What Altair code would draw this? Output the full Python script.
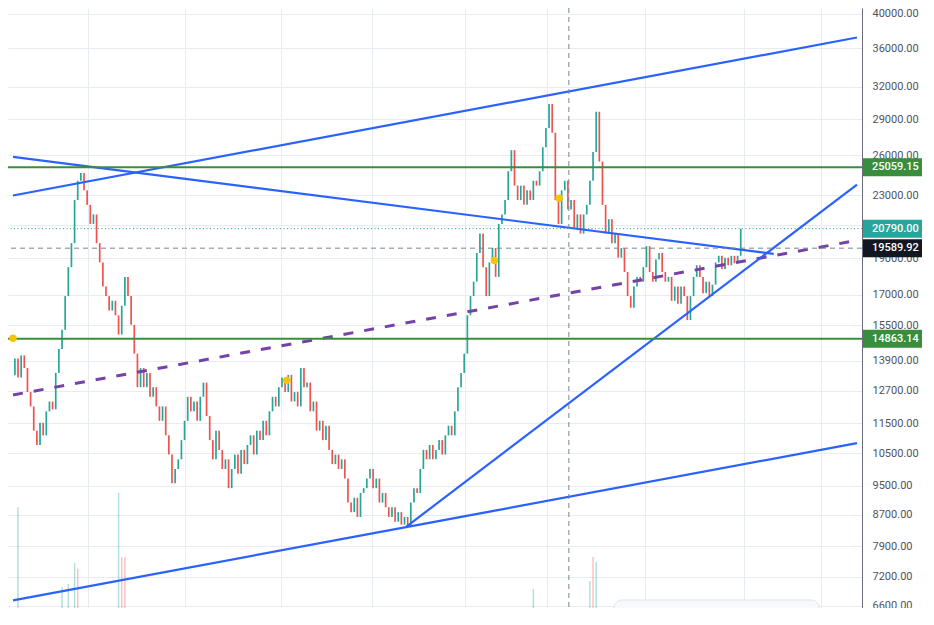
import altair as alt
import pandas as pd

# ---------------- data ----------------
first_open = 13300
closes = [
    14000, 13210, 14130, 13600, 12640, 12100, 11240, 10760, 11510, 11080,
    11920, 12280, 11990, 13400, 14410, 15280, 16930, 18490, 19890, 22680,
    24050, 24620, 23360, 22350, 21090, 21710, 19890, 18760, 17430, 16930,
    16200, 16690, 15970, 15060, 16440, 17950, 16930, 15510, 14210, 12830,
    13600, 12830, 13400, 12460, 12830, 12100, 11580, 12100, 11080, 10450,
    9573, 10000, 10300, 10920, 11580, 12460, 11920, 12280, 11580, 12460,
    13010, 11750, 10920, 10300, 11240, 10600, 10000, 10300, 9435, 10000,
    10450, 9855, 10600, 10150, 10760, 11080, 10450, 11240, 10920, 11580,
    11080, 11920, 12460, 12100, 12830, 13210, 12640, 13320, 12280, 12640,
    12100, 13600, 12830, 13010, 11920, 12280, 11240, 11580, 10920, 11410,
    10600, 10150, 10450, 10000, 10300, 9715, 9030, 8770, 9163, 8642,
    9298, 9435, 9715, 10000, 9435, 9715, 9030, 9298, 8900, 8642,
    8900, 8517, 8770, 8442, 8642, 8393, 9030, 9435, 9298, 10000,
    10600, 10300, 10760, 10300, 10600, 10920, 10450, 11080, 11410, 11080,
    11920, 12830, 13400, 14210, 15970, 16930, 17690, 19310, 20480, 18490,
    16930, 18760, 19600, 17950, 21090, 21710, 22680, 24760, 26400, 23700,
    22680, 23700, 22350, 23360, 22680, 24050, 23700, 24760, 26640, 28250,
    30390, 27840, 22680, 21090, 23360, 24050, 22030, 22680, 20780, 21710,
    20480, 21710, 22350, 24050, 26250, 29680, 25500, 22350, 20480, 21400,
    19890, 20480, 19030, 19600, 18220, 16930, 16340, 17430, 17950, 17690,
    18490, 19710, 18220, 17690, 18920, 19310, 18220, 17690, 17950, 16690,
    17430, 16540, 17430, 16930, 15740, 16930, 17950, 18600, 17950, 17080,
    17690, 16930, 17530, 18760, 19140, 18380, 19030, 18600, 19140, 18710,
    19140, 20790,
]

price_ticks = [6600, 7200, 7900, 8700, 9500, 10500, 11500, 12700, 13900, 15500,
               17000, 19000, 21000, 23000, 26000, 29000, 32000, 36000, 40000]
month_grid = [23.4, 54.2, 84.6, 113.5, 143.4, 169.2, 200.6, 232.0, 256.6]

vol_index = [1, 15, 17, 19, 20, 33, 34, 35, 165, 183, 184, 185]
vol_value = [105, 22, 25, 47, 41, 120, 53, 53, 20, 28, 53, 48]
vol_dir = ["up", "up", "up", "up", "down", "up", "down", "down", "up", "up", "down", "up"]

trend_x1 = [-0.6, -0.6, 124.6, -0.6]
trend_y1 = [23000, 25870, 8393, 6705]
trend_x2 = [268, 241.5, 268, 268]
trend_y2 = [37200, 19250, 23770, 10820]

median_x1 = [-0.6]
median_y1 = [12530]
median_x2 = [268]
median_y2 = [20060]

level_prices = [25059.15, 14863.14]
last_price = [20790.00]
cross_price = [19589.92]
cross_index = [176.3]

dot_index = [-0.6, 86.5, 152.6, 173.2]
dot_price = [14890, 13100, 18870, 22800]

tag_values = [25059.15, 20790.00, 19589.92, 14863.14]
tag_text = ["25059.15", "20790.00", "19589.92", "14863.14"]
tag_colors = ["#388e3c", "#26a69a", "#131722", "#388e3c"]

# ---------------- tables ----------------
opens = [first_open] + closes[:-1]
candles = pd.DataFrame({
    "i": list(range(len(closes))),
    "open": opens,
    "close": closes,
})
candles["dir"] = ["up" if c >= o else "down" for o, c in zip(opens, closes)]

vol = pd.DataFrame({"vi": vol_index, "vol": vol_value, "dir": vol_dir})
trends = pd.DataFrame({"x1": trend_x1, "y1": trend_y1, "x2": trend_x2, "y2": trend_y2})
median = pd.DataFrame({"x1": median_x1, "y1": median_y1, "x2": median_x2, "y2": median_y2})
levels = pd.DataFrame({"v": level_prices})
lastp = pd.DataFrame({"v": last_price})
crossp = pd.DataFrame({"v": cross_price})
crossi = pd.DataFrame({"i": cross_index})
dots = pd.DataFrame({"i": dot_index, "v": dot_price})
tags = pd.DataFrame({"v": tag_values, "t": tag_text, "c": tag_colors})

W, H = 854, 600
GRID = "#e7ecf2"
FONT = "Roboto"

X_SCALE = alt.Scale(domain=[-0.6, 268], nice=False, zero=False)
X_AXIS = alt.Axis(values=month_grid, labels=False, ticks=False, domain=False,
                  grid=True, gridColor=GRID, title=None)
Y_SCALE = alt.Scale(type="log", domain=[6550, 40700], nice=False)
Y_AXIS = alt.Axis(orient="right", values=price_ticks, format=".2f", title=None,
                  grid=True, gridColor=GRID, ticks=False, labelPadding=10,
                  labelColor="#50535e", labelFont=FONT, labelFontSize=11,
                  labelExpr="datum.value == 21000 ? '' : datum.label",
                  domain=True, domainColor="#6a6d78", domainWidth=1, zindex=0)


def X(f):
    return alt.X(f, type="quantitative", scale=X_SCALE, axis=X_AXIS)


def Y(f):
    return alt.Y(f, type="quantitative", scale=Y_SCALE, axis=Y_AXIS)


color_scale = alt.Scale(domain=["up", "down"], range=["#26a69a", "#ef5350"])

candle_layer = alt.Chart(candles).mark_rule(strokeWidth=1.7).encode(
    x=X("i"), y=Y("open"), y2="close",
    color=alt.Color("dir:N", scale=color_scale, legend=None),
)

median_layer = alt.Chart(median).mark_rule(
    color="#7442a8", strokeWidth=3, strokeDash=[10, 11]
).encode(x=X("x1"), y=Y("y1"), x2="x2", y2="y2")

trend_layer = alt.Chart(trends).mark_rule(color="#2962ff", strokeWidth=2.2).encode(
    x=X("x1"), y=Y("y1"), x2="x2", y2="y2"
)

level_layer = alt.Chart(levels).mark_rule(color="#388e3c", strokeWidth=2).encode(y=Y("v"))

last_layer = alt.Chart(lastp).mark_rule(
    color="#26a69a", strokeWidth=1, strokeDash=[1, 2.5]
).encode(y=Y("v"))

crossh_layer = alt.Chart(crossp).mark_rule(
    color="#758696", strokeWidth=1, strokeDash=[5, 4]
).encode(y=Y("v"))

crossv_layer = alt.Chart(crossi).mark_rule(
    color="#758696", strokeWidth=1, strokeDash=[5, 4]
).encode(x=X("i"))

dot_layer = alt.Chart(dots).mark_circle(size=55, color="#f7c500", opacity=1, clip=True).encode(
    x=X("i"), y=Y("v")
)

tag_box = alt.Chart(tags).mark_rect(height=18).encode(
    x=alt.value(W + 1), x2=alt.value(W + 60), y=Y("v"),
    color=alt.Color("c:N", scale=None),
)
tag_txt = alt.Chart(tags).mark_text(
    align="left", baseline="middle", color="white", font=FONT, fontSize=11, fontWeight=500
).encode(x=alt.value(W + 10), y=Y("v"), text="t:N")

price_group = alt.layer(
    candle_layer, median_layer, trend_layer, level_layer, last_layer,
    crossh_layer, crossv_layer, dot_layer, tag_box, tag_txt,
)

vol_layer = alt.Chart(vol).mark_bar(width=1.5, opacity=0.35).encode(
    x=X("vi"),
    y=alt.Y("vol:Q", scale=alt.Scale(domain=[0, 625]), axis=None),
    color=alt.Color("dir:N", scale=color_scale, legend=None),
)

toolbar = alt.Chart(pd.DataFrame({"a": [0]})).mark_rect(
    fill="#f8f9fc", stroke="#e0e3eb", cornerRadius=8
).encode(x=alt.value(606), x2=alt.value(811), y=alt.value(H - 8), y2=alt.value(H + 12))

chart = alt.layer(vol_layer, toolbar, price_group).resolve_scale(
    y="independent"
).properties(
    width=W, height=H,
    autosize=alt.AutoSizeParams(type="none"),
    padding={"left": 0, "top": 0, "right": 60, "bottom": 0},
    background="white",
).configure_view(stroke=None)

chart.save("out.html", embed_options={"renderer": "svg", "actions": False})
